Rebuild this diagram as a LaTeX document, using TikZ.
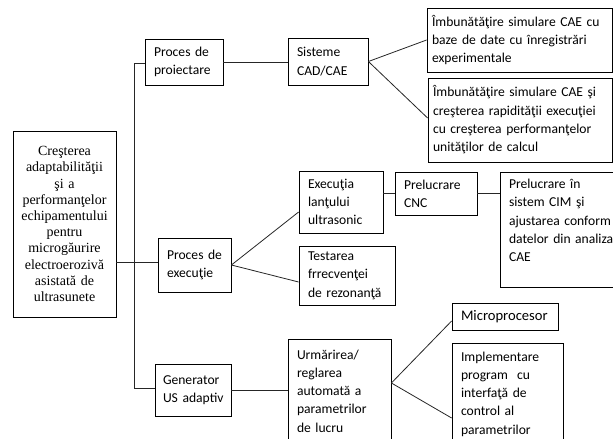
\documentclass[tikz,border=0pt]{standalone}
\usepackage{fontspec}
\setmainfont{Carlito}
\newfontfamily\serifroot{Liberation Serif}
\usetikzlibrary{positioning}
\tikzset{box/.style={draw, line width=0.8, align=left, inner xsep=9pt, inner ysep=2pt,
    font=\fontsize{13.6}{18.3}\selectfont},
widebox/.style={box, inner xsep=5pt},
rootbox/.style={draw, line width=0.8, align=center, inner xsep=4pt,
    font=\serifroot\fontsize{14}{16.2}\selectfont},
link/.style={line width=0.8, black!85}
}

\begin{document}
\begin{tikzpicture}[x=1pt, y=-1pt]
            \clip (0,0) rectangle (613,439);
            \node[rootbox, text width=95pt, minimum height=186pt] (root) at (64.5,224) {Creşterea\\ adaptabilităţii\\ şi a\\ performanţelor\\ echipamentului\\ pentru\\ microgăurire\\ electroerozivă\\ asistată de\\ ultrasunete};
            \node[box, text width=60pt, minimum height=46pt] (proiect) at (184,62) {Proces~de\\ proiectare};
            \node[box, text width=62pt, minimum height=47pt] (cad) at (328,61.5) {Sisteme\\ CAD/CAE};
            \node[widebox, text width=175pt, minimum height=64pt] (imb_1) at (519.5,40) {Îmbunătăţire simulare CAE cu\\ baze de date cu înregistrări\\ experimentale};
            \node[widebox, text width=174.5pt, minimum height=84pt] (imb_2) at (520.25,120) {Îmbunătăţire simulare CAE şi\\ creşterea rapidităţii execuţiei\\ cu creşterea performanţelor\\ unităţilor de calcul};
            \node[box, text width=55pt, minimum height=54pt] (exec) at (194.5,265) {Proces~de\\ execuţie};
            \node[box, text width=66pt, minimum height=62pt] (lant) at (341,202) {Execuţia\\ lanţului\\ ultrasonic};
            \node[box, text width=78pt, minimum height=59pt] (test) at (347,275.5) {Testarea\\ frrecvenţei\\ de rezonanţă};
            \node[box, text width=64pt, minimum height=43pt] (cnc) at (436,193.5) {Prelucrare\\ CNC};
            \node[box, text width=107pt, minimum height=115pt] (cim) at (562.5,229.5) {Prelucrare în\\ sistem CIM şi\\ ajustarea conform\\ datelor din analiza\\ CAE\\ \mbox{}};
            \node[box, inner xsep=8pt, text width=60pt, minimum height=52pt] (gen) at (193,390) {Generator\\ \mbox{US adaptiv}};
            \node[box, text width=85pt, minimum height=104pt] (urm) at (339.5,391) {Urmărirea/\\ reglarea\\ automată a\\ parametrilor\\ de lucru};
            \node[box, text width=88pt, minimum height=27pt, font=\fontsize{14.6}{18.3}\selectfont] (micro) at (505,316.5) {Microprocesor};
            \node[box, text width=93pt, minimum height=102pt] (impl) at (507.5,394) {Implementare\\ program~ cu\\ interfaţă de\\ control al\\ parametrilor};
            % bus line
            \coordinate (b_top) at (134,63);
            \coordinate (b_mid) at (134,262);
            \coordinate (b_bot) at (134,388);
            \draw[link] (b_top) -- (b_bot);
            \draw[link] (b_top) -- (b_top -| proiect.west);
            \draw[link] (root.east |- b_mid) -- (b_mid -| exec.west);
            \draw[link] (b_bot) -- (b_bot -| gen.west);
            \path[link]
                (proiect.east) edge (proiect.east -| cad.west)
                (cad.east) edge (imb_1.west)
                (cad.east) edge ([yshift=2pt]imb_2.west)
                (exec.east) edge ([yshift=-10pt]lant.west)
                (exec.east) edge ([yshift=-6.5pt]test.west)
                (lant.east |- cnc.west) edge (cnc.west)
                (cnc.east) edge (cnc.east -| cim.west)
                (gen.east) edge (gen.east -| urm.west)
                ([yshift=8pt]urm.east) edge ([yshift=-4.5pt]micro.west)
                ([yshift=8pt]urm.east) edge ([yshift=-24pt]impl.west);
        \end{tikzpicture}
\end{document}
